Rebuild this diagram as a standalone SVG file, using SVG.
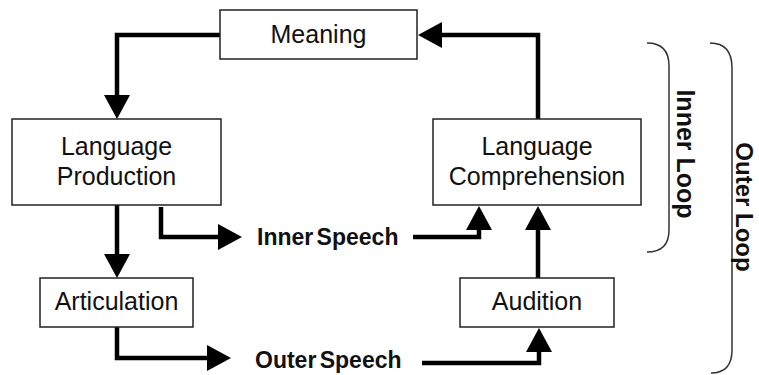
<svg xmlns="http://www.w3.org/2000/svg" width="759" height="375" viewBox="0 0 759 375">
<style>
.box{fill:#fff;stroke:#222;stroke-width:1.5}
.lbl{font-family:"Liberation Sans",Arial,sans-serif;font-size:25px;fill:#111;text-anchor:middle}
.sp{font-family:"Liberation Sans",Arial,sans-serif;font-size:23px;font-weight:bold;fill:#111;word-spacing:-3px}
.loop{font-family:"Liberation Sans",Arial,sans-serif;font-size:25px;font-weight:bold;fill:#111;text-anchor:middle}
.conn{fill:none;stroke:#000;stroke-width:4.5;marker-end:url(#ah)}
.brk{fill:none;stroke:#333;stroke-width:1.5}
</style>
<defs>
<marker id="ah" markerUnits="userSpaceOnUse" markerWidth="26" markerHeight="28" refX="0" refY="13" orient="auto" overflow="visible">
<path d="M0,0 L24,13 L0,26 Z" fill="#000"/>
</marker>
</defs>
<g id="connectors">
<path class="conn" d="M220,35 H117 V95"/>
<path class="conn" d="M117,205 V254"/>
<path class="conn" d="M161,207 V237 H218"/>
<path class="conn" d="M413,237 H479 V230"/>
<path class="conn" d="M117,327 V358 H207"/>
<path class="conn" d="M422,363 H539 V352"/>
<path class="conn" d="M538,278 V230"/>
<path class="conn" d="M538,119 V35 H442"/>
</g>
<g id="meaning">
<rect class="box" x="220" y="10" width="197" height="49"/>
<text class="lbl" x="318.5" y="43">Meaning</text>
</g>
<g id="language-production">
<rect class="box" x="12" y="119" width="209" height="86"/>
<text class="lbl" x="116.5" y="155">Language</text>
<text class="lbl" x="116.5" y="185">Production</text>
</g>
<g id="language-comprehension">
<rect class="box" x="433" y="119" width="208" height="86"/>
<text class="lbl" x="537" y="155">Language</text>
<text class="lbl" x="537" y="185">Comprehension</text>
</g>
<g id="articulation">
<rect class="box" x="40" y="278" width="153" height="49"/>
<text class="lbl" x="116.5" y="310">Articulation</text>
</g>
<g id="audition">
<rect class="box" x="460" y="278" width="154" height="49"/>
<text class="lbl" x="537" y="310">Audition</text>
</g>
<g id="inner-speech">
<text class="sp" x="257" y="245">Inner Speech</text>
</g>
<g id="outer-speech">
<text class="sp" x="255" y="368">Outer Speech</text>
</g>
<g id="inner-loop">
<path class="brk" d="M647,43 Q669,43 669,66 V230 Q669,252 647,252"/>
<text class="loop" transform="translate(677,154) rotate(90)">Inner Loop</text>
</g>
<g id="outer-loop">
<path class="brk" d="M710,43 Q732,43 732,68 V350 Q732,373 711,373"/>
<text class="loop" style="font-size:24px" transform="translate(736,207) rotate(90)">Outer Loop</text>
</g>
</svg>
